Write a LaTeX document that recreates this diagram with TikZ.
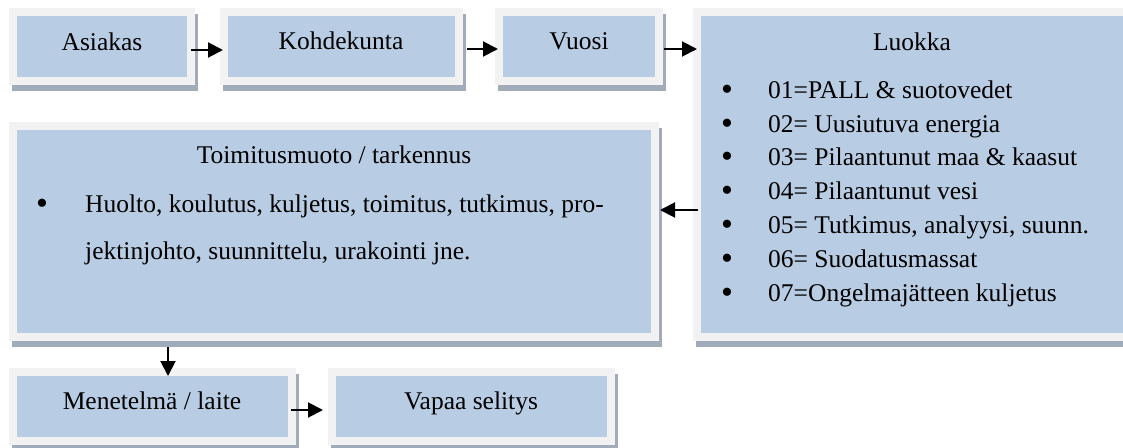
\documentclass[tikz,border=0pt]{standalone}
\usepackage{fontspec}
\setmainfont{Liberation Serif}
\usetikzlibrary{arrows.meta}

\definecolor{panelblue}{HTML}{B8CCE4}
\definecolor{framegray}{HTML}{F2F2F2}
\definecolor{shadowgray}{HTML}{A2ABBA}

\tikzset{
  panel/.style={fill=panelblue, draw=none, inner sep=0pt, outer sep=0pt},
  lbl/.style={inner sep=0pt, font=\fontsize{25.5}{34}\selectfont, text=black},
  item/.style={lbl, anchor=base west},
  dot/.style={lbl, anchor=base},
  bullet/.style={inner sep=0pt, anchor=center, font=\fontsize{34}{34}\selectfont},
  flow/.style={line width=2pt, -{Triangle[length=15pt,width=15pt]}},
}

% \panelbox{name}{x1}{y1}{x2}{y2}: shadow, light frame and blue face
\newcommand\panelbox[5]{%
  \fill[shadowgray] (#2+3,#3+6) rectangle (#4+3,#5+6);
  \fill[framegray] (#2,#3) rectangle (#4,#5);
  \node[panel, minimum width={#4-#2-16}, minimum height={#5-#3-16}]
    (#1) at ({(#2+#4)/2},{(#3+#5)/2}) {};
}

\begin{document}
\begin{tikzpicture}[x=1pt, y=-1pt]
\useasboundingbox (0,0) rectangle (1123,447);

% boxes
\panelbox{asiakas}{9}{8}{195}{85}
\panelbox{kohde}{220}{8}{463}{85}
\panelbox{vuosi}{495}{8}{663}{85}
\panelbox{luokka}{693}{8}{1131}{341}
\panelbox{toimitus}{9}{122}{659}{341}
\panelbox{menetelma}{9}{368}{296}{445}
\panelbox{vapaa}{328}{368}{615}{445}

% titles
\node[dot] (t1) at (102,50) {Asiakas};
\node[dot] (t2) at (341,49) {Kohdekunta};
\node[dot] (t3) at (579,49) {Vuosi};
\node[dot] (t4) at (912,50) {Luokka};
\node[dot] (t5) at (334,163) {Toimitusmuoto / tarkennus};
\node[dot] (t6) at (152,409) {Menetelmä / laite};
\node[dot] (t7) at (471,409) {Vapaa selitys};

% list of classes
\node[bullet] (b1) at (727,93) {\textbullet};
\node[item] (l1) at (768,98) {01=PALL \& suotovedet};
\node[bullet] (b2) at (727,127) {\textbullet};
\node[item] (l2) at (768,132) {02= Uusiutuva energia};
\node[bullet] (b3) at (727,160) {\textbullet};
\node[item] (l3) at (768,165) {03= Pilaantunut maa \& kaasut};
\node[bullet] (b4) at (727,194) {\textbullet};
\node[item] (l4) at (768,199) {04= Pilaantunut vesi};
\node[bullet] (b5) at (727,228) {\textbullet};
\node[item] (l5) at (768,233) {05= Tutkimus, analyysi, suunn.};
\node[bullet] (b6) at (727,262) {\textbullet};
\node[item] (l6) at (768,267) {06= Suodatusmassat};
\node[bullet] (b7) at (727,296) {\textbullet};
\node[item] (l7) at (768,301) {07=Ongelmajätteen kuljetus};

% delivery types
\node[bullet] (b8) at (42,207) {\textbullet};
\node[item] (l8) at (85,212) {Huolto, koulutus, kuljetus, toimitus, tutkimus, pro-};
\node[item] (l9) at (85,259) {jektinjohto, suunnittelu, urakointi jne.};

% connector end points
\coordinate (a1) at ([xshift=4pt,yshift=-3.5pt]asiakas.east);
\coordinate (a2) at ([xshift=12pt,yshift=-2.5pt]kohde.east);
\coordinate (a3) at ([xshift=9pt,yshift=-2.5pt]vuosi.east);
\coordinate (a4) at (698,210);
\coordinate (a5) at (168,347);
\coordinate (a6) at (291,410);

% connectors
\draw[flow] (a1) -- ([xshift=-5pt]a1 -| kohde.west);
\draw[flow] (a2) -- ([xshift=-5pt]a2 -| vuosi.west);
\draw[flow] (a3) -- ([xshift=-4pt]a3 -| luokka.west);
\draw[flow] (a4) -- ([xshift=9pt]a4 -| toimitus.east);
\draw[flow] (a5) -- (a5 |- menetelma.north);
\draw[flow] (a6) -- ([xshift=-13pt]a6 -| vapaa.west);
\end{tikzpicture}
\end{document}
